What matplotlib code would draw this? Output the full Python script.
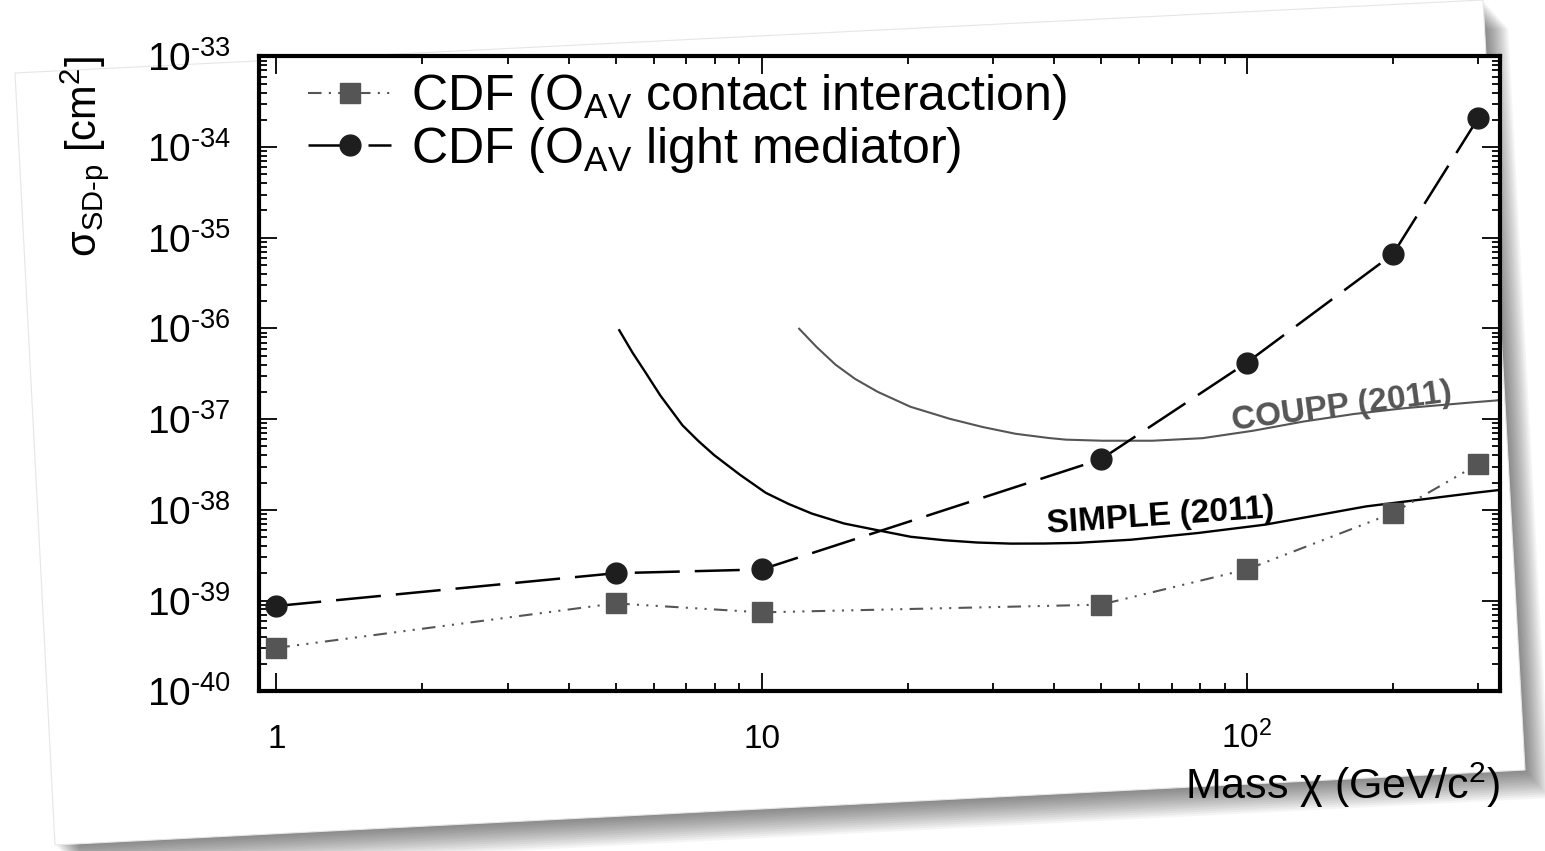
import numpy as np
import matplotlib
matplotlib.use("Agg")
import matplotlib.pyplot as plt
from matplotlib.ticker import LogLocator, FuncFormatter, NullFormatter
from matplotlib.patches import Polygon
from matplotlib.transforms import IdentityTransform

plt.rcParams['font.family'] = ['Liberation Sans', 'DejaVu Sans']
plt.rcParams['mathtext.fontset'] = 'custom'
plt.rcParams['mathtext.rm'] = 'Liberation Sans'
plt.rcParams['mathtext.it'] = 'Liberation Sans:italic'
plt.rcParams['mathtext.bf'] = 'Liberation Sans:bold'
plt.rcParams['mathtext.sf'] = 'Liberation Sans'

# ---------------- data ----------------
mass_cdf = [1, 5, 10, 50, 100, 200, 300]
sigma_contact = [3.0e-40, 9.3e-40, 7.4e-40, 9.0e-40, 2.2e-39, 9.2e-39, 3.2e-38]
sigma_light = [8.7e-40, 2.0e-39, 2.2e-39, 3.6e-38, 4.2e-37, 6.6e-36, 2.1e-34]

simple_mass = [5.09, 5.42, 5.75, 6.19, 6.87, 7.41, 7.99, 9.03, 10.2, 11.37, 12.7, 14.8, 17.3,
               20.3, 23.8, 27.8, 32.6, 38.2, 44.7, 57.7, 79.3, 109, 176, 298, 333]
simple_sigma = [9.55e-37, 5.41e-37, 3.34e-37, 1.81e-37, 8.55e-38, 5.73e-38, 4.0e-38, 2.43e-38,
                1.54e-38, 1.16e-38, 9.08e-39, 7.06e-39, 5.97e-39, 5.04e-39, 4.62e-39, 4.36e-39,
                4.24e-39, 4.25e-39, 4.32e-39, 4.68e-39, 5.55e-39, 6.86e-39, 1.09e-38, 1.55e-38,
                1.66e-38]

coupp_mass = [11.95, 12.98, 14.2, 15.58, 17.35, 20.26, 24.4, 28.6, 33.4, 39.1, 42.4, 50.4,
              63.9, 81.1, 103, 131, 166.4, 211, 300, 333]
coupp_sigma = [9.93e-37, 6.25e-37, 3.99e-37, 2.78e-37, 2.0e-37, 1.37e-37, 1.01e-37, 8.17e-38,
               6.89e-38, 6.19e-38, 5.94e-38, 5.78e-38, 5.78e-38, 6.17e-38, 7.45e-38, 9.42e-38,
               1.14e-37, 1.32e-37, 1.55e-37, 1.62e-37]

label_contact = r'CDF (O$_{\mathregular{AV}}$ contact interaction)'
label_light = r'CDF (O$_{\mathregular{AV}}$ light mediator)'
x_ticks = [1, 10, 100]
x_ticklabels = ['1', '10', r'$\mathregular{10^{2}}$']

HYPH = '\u2010'

# ---------------- figure ----------------
W, H = 1545, 851
fig = plt.figure(figsize=(W / 100, H / 100), dpi=100)
fig.patch.set_facecolor('white')

# tilted paper card with drop shadow (decoration)
card = [(15, 73), (1483, 0), (1525, 770), (55, 845)]
def disp(pts, dx=0.0, dy=0.0):
    return [(x + dx, H - (y + dy)) for x, y in pts]
for k in range(14):
    off = 2 + 2.0 * k
    fig.patches.append(Polygon(disp(card, off * 0.9, off), closed=True,
                               transform=IdentityTransform(), facecolor='black',
                               alpha=0.04, edgecolor='none', zorder=-20))
fig.patches.append(Polygon(disp(card), closed=True, transform=IdentityTransform(),
                           facecolor='white', edgecolor='#e6e6e6', lw=0.8, zorder=-10))

ax = fig.add_axes([0.1675, 0.1878, 0.8036, 0.7459])
ax.set_facecolor('white')
ax.set_xscale('log')
ax.set_yscale('log')
ax.set_xlim(0.92, 333)
ax.set_ylim(1e-40, 1e-33)

ax.plot(coupp_mass, coupp_sigma, color='#555555', lw=1.5, zorder=2)
ax.plot(simple_mass, simple_sigma, color='black', lw=1.7, zorder=2)
ax.plot(mass_cdf, sigma_contact, color='#555555', lw=1.5,
        ls=(0, (6.5, 3.5, 1.0, 3.5, 1.0, 3.5, 1.0, 3.5)),
        marker='s', ms=14, mfc='#555555', mec='#555555', label=label_contact, zorder=3)
ax.plot(mass_cdf, sigma_light, color='black', lw=1.8, ls=(0, (18, 6)),
        marker='o', ms=15, mfc='#1e1e1e', mec='#1e1e1e', label=label_light, zorder=3)

ax.text(93.7, 7.6e-38, 'COUPP (2011)', color='#555555', fontsize=24, fontweight='bold',
        rotation=7.5, rotation_mode='anchor', ha='left', va='baseline')
ax.text(38.9, 5.6e-39, 'SIMPLE (2011)', color='black', fontsize=24, fontweight='bold',
        rotation=4.0, rotation_mode='anchor', ha='left', va='baseline')

# axes styling
for s in ax.spines.values():
    s.set_linewidth(3.0)
ax.yaxis.set_major_locator(LogLocator(base=10, numticks=20))
ax.yaxis.set_minor_locator(LogLocator(base=10, subs=np.arange(2, 10), numticks=20))
ax.yaxis.set_minor_formatter(NullFormatter())
ax.yaxis.set_major_formatter(FuncFormatter(
    lambda v, p: '$\\mathregular{10^{' + HYPH + '%d}}$' % abs(int(round(np.log10(v))))))
ax.xaxis.set_minor_locator(LogLocator(base=10, subs=np.arange(2, 10), numticks=20))
ax.xaxis.set_minor_formatter(NullFormatter())
ax.set_xticks(x_ticks, x_ticklabels, va='baseline')

ax.tick_params(which='both', direction='in', top=True, right=True)
ax.tick_params(which='major', length=13, width=1.3)
ax.tick_params(which='minor', length=6, width=1.3)
ax.tick_params(axis='y', which='major', labelsize=28, pad=20)
ax.tick_params(axis='x', which='major', labelsize=24, pad=41)

ax.text(-0.14, 1.0, '\u03c3$_{\\mathregular{SD' + HYPH + 'p}}$ [cm$^{\\mathregular{2}}$]',
        transform=ax.transAxes, rotation=90, ha='center', va='top', fontsize=30)
ax.text(1.0, -0.148, 'Mass \u03c7 (GeV/c$^{\\mathregular{2}}$)', transform=ax.transAxes,
        ha='right', va='center', fontsize=31)

ax.legend(loc='upper left', bbox_to_anchor=(0.040, 0.975), frameon=False, fontsize=36,
          borderpad=0, borderaxespad=0, handlelength=1.65, handletextpad=0.4,
          labelspacing=0.05)

fig.savefig('out.png', dpi=100)
